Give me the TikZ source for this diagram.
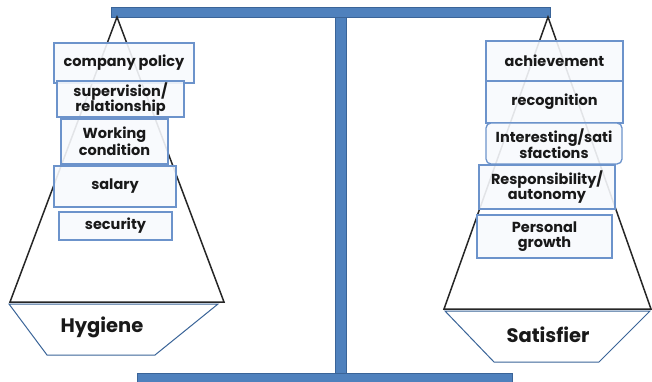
\documentclass[tikz,border=0pt]{standalone}
\usepackage{fontspec}
\setmainfont{Poppins}
\usepackage{tikz}

\definecolor{beamblue}{HTML}{4F81BD}
\definecolor{beamedge}{HTML}{3A6498}
\definecolor{boxedge}{HTML}{6C93CB}
\definecolor{boxfill}{HTML}{F7F9FD}

\tikzset{
  factor/.style={draw=boxedge, line width=1.3pt, fill=boxfill, fill opacity=0.9,
    text opacity=1, text=black!90, align=center, inner sep=0pt,
    font=\fontsize{14.5}{15.5}\selectfont\bfseries},
  pan/.style={draw=black!85, line width=1.5pt},
  plate/.style={draw=beamedge, line width=1pt, fill=white},
  bar/.style={fill=beamblue, draw=beamedge, line width=0.8pt},
  weight/.style={font=\fontsize{19.5}{21}\selectfont\bfseries, text=black!90}
}

\begin{document}
\begin{tikzpicture}[x=1pt, y=-1pt]
\useasboundingbox (0,0) rectangle (652,381);
% stand
\draw[bar] (335,15) rectangle (346,381);
\draw[bar] (137,373) rectangle (512,383);
\draw[bar] (111,7) rectangle (550,17);
\coordinate (hyg) at (117,17);
\coordinate (sat) at (548,17);
% pans
\draw[pan] (10,302) -- (hyg) -- (224,302) -- cycle;
\draw[pan] (444,309) -- (sat) -- (651,309) -- cycle;
\draw[plate] (9,304) -- (218,304) -- (155,355) -- (47,355) -- cycle;
\draw[plate] (445,311) -- (650,311) -- (599,362) -- (494,362) -- cycle;
\node[weight] (hygiene) at (102,327) {Hygiene};
\node[weight] (satisfier) at (548,335) {Satisfier};
% hygiene factors
\node[factor, minimum width=140, minimum height=40] (policy) at (124,63) {company policy};
\node[factor, minimum width=127, minimum height=36] (supervision) at (120.5,99) {supervision/\\relationship};
\node[factor, minimum width=107, minimum height=45] (working) at (114.5,141.5) {Working\\condition};
\node[factor, minimum width=122, minimum height=41] (salary) at (115,186.5) {salary};
\node[factor, minimum width=113, minimum height=28] (security) at (115.5,226) {security};
% satisfier factors
\node[factor, minimum width=137, minimum height=40] (achieve) at (554.5,61) {achievement};
\node[factor, minimum width=137, minimum height=42] (recog) at (554.5,102) {recognition};
\node[factor, rounded corners=5pt, minimum width=136, minimum height=41] (interest) at (554,143.5) {Interesting/sati\\sfactions};
\node[factor, minimum width=136, minimum height=44] (respons) at (547,187) {Responsibility/\\autonomy};
\node[factor, minimum width=135, minimum height=43] (growth) at (544.5,236.5) {Personal\\growth};
\end{tikzpicture}
\end{document}
